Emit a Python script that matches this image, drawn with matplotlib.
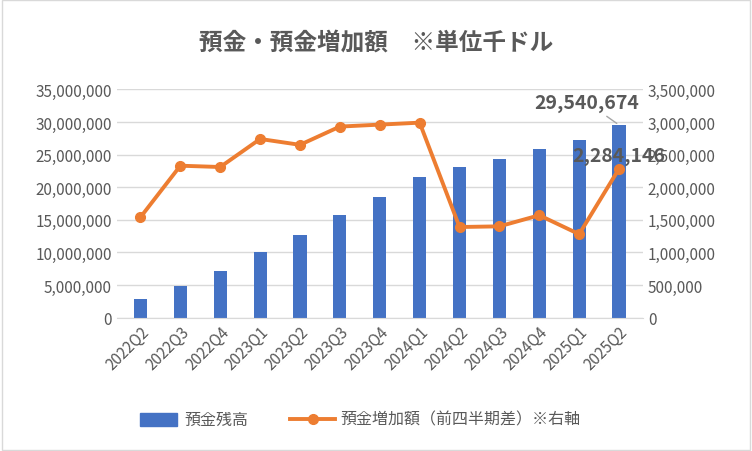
import matplotlib.pyplot as plt
import numpy as np
from matplotlib.ticker import FuncFormatter

plt.rcParams['font.family'] = ['Noto Sans CJK JP', 'DejaVu Sans']

quarters = ['2022Q2', '2022Q3', '2022Q4', '2023Q1', '2023Q2', '2023Q3', '2023Q4',
            '2024Q1', '2024Q2', '2024Q3', '2024Q4', '2025Q1', '2025Q2']
balance = [2800000, 4900000, 7200000, 10000000, 12600000, 15700000, 18500000,
           21600000, 23100000, 24400000, 25900000, 27300000, 29540674]
increase = [1540000, 2330000, 2310000, 2740000, 2650000, 2930000, 2960000,
            2990000, 1390000, 1400000, 1570000, 1280000, 2284146]

blue = '#4472C4'
orange = '#ED7D31'
grid_c = '#D9D9D9'
text_c = '#595959'

fig = plt.figure(figsize=(7.52, 4.52), dpi=100)
ax = fig.add_axes([0.155, 0.295, 0.70, 0.505])
ax2 = ax.twinx()

x = np.arange(len(quarters))
ax.bar(x, balance, width=0.33, color=blue, zorder=2)
ax2.plot(x, increase, color=orange, lw=2.8, marker='o', ms=7, zorder=3)

ax.set_ylim(0, 35000000)
ax2.set_ylim(0, 3500000)
ax.set_yticks(np.arange(0, 35000001, 5000000))
ax2.set_yticks(np.arange(0, 3500001, 500000))
fmt = FuncFormatter(lambda v, p: f'{int(v):,}')
ax.yaxis.set_major_formatter(fmt)
ax2.yaxis.set_major_formatter(fmt)
ax.grid(axis='y', color=grid_c, lw=1, zorder=0)
ax.set_xlim(-0.6, len(x) - 0.4)
ax.set_xticks(x)
ax.set_xticklabels(quarters, rotation=45, ha='right', rotation_mode='anchor')
for a in (ax, ax2):
    for s in a.spines.values():
        s.set_visible(False)
    a.tick_params(length=0, labelsize=11, colors=text_c)
ax.spines['bottom'].set_visible(True)
ax.spines['bottom'].set_color(grid_c)

ax.annotate(f'{balance[-1]:,}', xy=(x[-1], balance[-1]), xytext=(x[-1] - 0.8, 33000000),
            ha='center', va='center', fontsize=14, fontweight='bold', color=text_c,
            arrowprops=dict(arrowstyle='-', color='#A6A6A6', lw=1))
ax2.text(x[-1], 2480000, f'{increase[-1]:,}', ha='center', va='center',
         fontsize=14, fontweight='bold', color=text_c, zorder=5)

fig.text(0.5, 0.905, '預金・預金増加額\u3000※単位千ドル', ha='center', va='center',
         fontsize=17, fontweight='bold', color=text_c)

fig.patches.append(plt.Rectangle((0.186, 0.055), 0.05, 0.03, color=blue, transform=fig.transFigure))
fig.text(0.245, 0.07, '預金残高', va='center', fontsize=11.5, color=text_c)
fig.lines.append(plt.Line2D([0.386, 0.446], [0.07, 0.07], color=orange, lw=2.8,
                            transform=fig.transFigure))
fig.lines.append(plt.Line2D([0.416], [0.07], color=orange, marker='o', ms=7,
                            transform=fig.transFigure))
fig.text(0.452, 0.07, '預金増加額（前四半期差）※右軸', va='center', fontsize=11.5, color=text_c)

fig.patches.append(plt.Rectangle((0.002, 0.002), 0.996, 0.996, fill=False,
                                 edgecolor='#D9D9D9', lw=1, transform=fig.transFigure))
fig.savefig('out.png', dpi=100)
